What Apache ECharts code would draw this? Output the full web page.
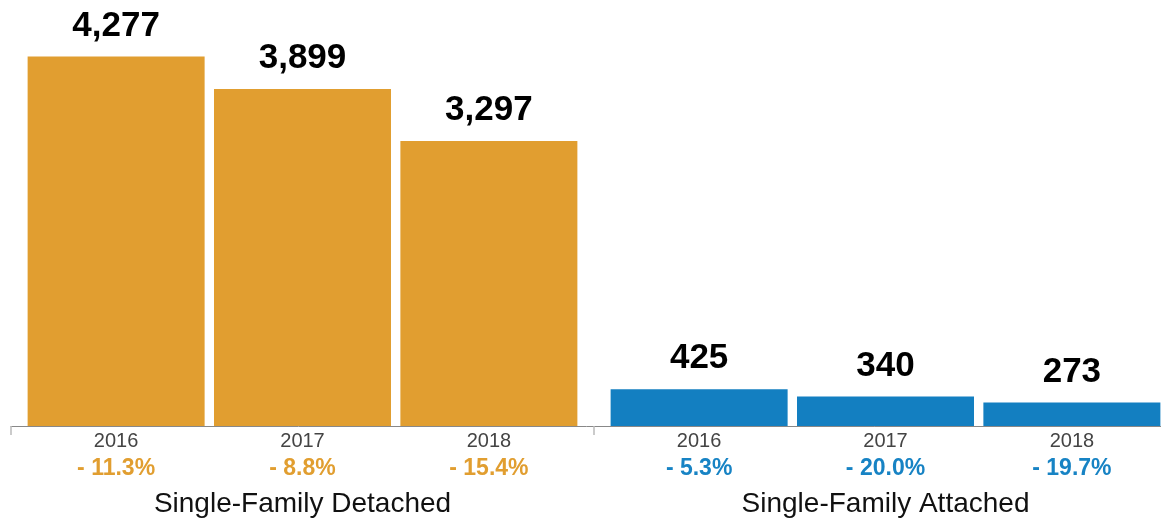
<!DOCTYPE html>
<html>
<head>
<meta charset="utf-8">
<script src="https://cdn.jsdelivr.net/npm/echarts@6/dist/echarts.min.js"></script>
<style>
html,body{margin:0;padding:0;background:#fff;}
#chart{width:1161px;height:520px;}
</style>
</head>
<body>
<div id="chart"></div>
<script>
const groups = ['Single-Family Detached', 'Single-Family Attached'];
const years = ['2016', '2017', '2018'];
const detached = [4277, 3899, 3297];
const attached = [425, 340, 273];
const detachedChange = ['- 11.3%', '- 8.8%', '- 15.4%'];
const attachedChange = ['- 5.3%', '- 20.0%', '- 19.7%'];
const groupColors = ['#E19E30', '#137FC1'];
const changeColors = ['#E19E30', '#1783C4'];

const FONT = '"Liberation Sans", Arial, Helvetica, sans-serif';
const values = [detached, attached];
const changes = [detachedChange, attachedChange];
const fmt = v => String(v).replace(/\B(?=(\d{3})+(?!\d))/g, ',');

const series = [];
years.forEach((yr, i) => {
  // zero-height base carrying the year + change labels below the axis
  series.push({
    type: 'bar',
    stack: 's' + i,
    barWidth: 177,
    barGap: '5.3%',
    silent: true,
    itemStyle: { color: 'rgba(0,0,0,0)' },
    data: groups.map(() => 0),
    label: {
      show: true,
      position: 'bottom',
      distance: 1,
      fontFamily: FONT,
      formatter: p => '{y|' + yr + '}\n{c' + p.dataIndex + '|' + changes[p.dataIndex][i] + '}',
      rich: {
        y: { fontFamily: FONT, fontSize: 20, color: '#444', lineHeight: 28, align: 'center' },
        c0: { fontFamily: FONT, fontSize: 23, fontWeight: 'bold', color: changeColors[0], lineHeight: 28, align: 'center' },
        c1: { fontFamily: FONT, fontSize: 23, fontWeight: 'bold', color: changeColors[1], lineHeight: 28, align: 'center' }
      }
    }
  });
  series.push({
    type: 'bar',
    stack: 's' + i,
    barWidth: 177,
    barGap: '5.3%',
    data: groups.map((g, gi) => ({ value: values[gi][i], itemStyle: { color: groupColors[gi] } })),
    label: {
      show: true,
      position: 'top',
      distance: 13,
      fontFamily: FONT,
      fontSize: 35,
      fontWeight: 'bold',
      color: '#000',
      formatter: p => fmt(p.value)
    }
  });
});

const chart = echarts.init(document.getElementById('chart'));
chart.setOption({
  animation: false,
  grid: { left: 11, top: 0, width: 1166, bottom: 94, containLabel: false, outerBoundsMode: 'none' },
  xAxis: {
    type: 'category',
    data: groups,
    axisLine: { show: true, lineStyle: { color: '#888', width: 1 } },
    axisTick: { show: true, alignWithLabel: false, length: 9, lineStyle: { color: '#bbb', width: 1.5 } },
    axisLabel: { fontFamily: FONT, fontSize: 28, color: '#111', margin: 64 }
  },
  yAxis: { type: 'value', min: 0, max: 4930, show: false, splitLine: { show: false } },
  series: series
});
</script>
</body>
</html>
